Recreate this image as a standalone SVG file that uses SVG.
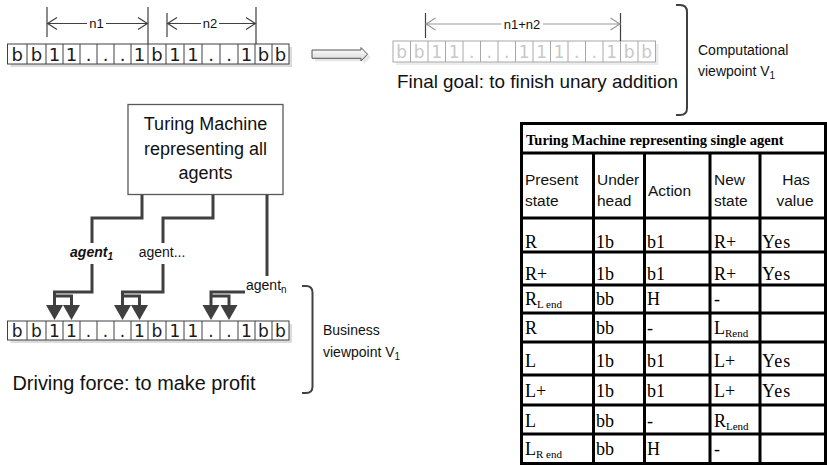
<svg xmlns="http://www.w3.org/2000/svg" width="827" height="466" viewBox="0 0 827 466">
<defs>
<style>
.cell{fill:#fff;stroke:#404040;stroke-width:1}
.sep{stroke:#404040;stroke-width:1;fill:none}
.shadow{fill:#dcdcdc}
.tt{font-family:"DejaVu Sans",sans-serif;font-size:18px;fill:#1a1a1a;text-anchor:middle}
.tb{font-family:"DejaVu Sans",sans-serif;font-size:17px;fill:#1a1a1a;text-anchor:middle}
.fcell{fill:#fff;stroke:#a8a8a8;stroke-width:1}
.fsep{stroke:#a8a8a8;stroke-width:1;fill:none}
.ft{font-family:"DejaVu Sans",sans-serif;font-size:17px;fill:#c8c8c8;text-anchor:middle}
.sans{font-family:"Liberation Sans",Arial,sans-serif;fill:#111}
.conn{fill:none;stroke:#404040;stroke-width:3;stroke-linejoin:miter}
.dim{stroke:#404040;stroke-width:1.2;fill:none}
.fdim{stroke:#9a9a9a;stroke-width:1.2;fill:none}
.brk{stroke:#404040;stroke-width:2;fill:none}
.serif{font-family:"Liberation Serif","Times New Roman",serif;font-size:18px;fill:#000}
.title{font-family:"Liberation Serif","Times New Roman",serif;font-size:14.5px;font-weight:bold;fill:#000}
.hdr{font-family:"Liberation Sans",Arial,sans-serif;font-size:15.5px;fill:#111}
.grid{stroke:#000;stroke-width:3;fill:none}
</style>
<marker id="ah" markerUnits="userSpaceOnUse" markerWidth="16" markerHeight="18" viewBox="0 -9 16 18" refX="0" refY="0" orient="auto">
<path d="M0,-8.5 L15,0 L0,8.5 z" fill="#404040"/>
</marker>
<linearGradient id="ag" x1="0" y1="0" x2="0" y2="1">
<stop offset="0" stop-color="#ffffff"/>
<stop offset="1" stop-color="#d8d8d8"/>
</linearGradient>
</defs>
<rect width="827" height="466" fill="#fff"/>

<!-- Top-left tape -->
<g id="tape-top">
<rect class="shadow" x="10.5" y="47" width="281.5" height="20"/>
<rect class="cell" x="7.5" y="44" width="281.5" height="20"/>
<path class="sep" d="M27,44v20M46,44v20M63,44v20M80,44v20M97,44v20M114,44v20M131,44v20M148,44v20M166,44v20M184,44v20M202,44v20M220,44v20M238,44v20M255,44v20M272,44v20"/>
<g class="tt">
<text x="17.25" y="61">b</text><text x="36.5" y="61">b</text><text x="54.5" y="61">1</text><text x="71.5" y="61">1</text>
<text x="88.5" y="61">.</text><text x="105.5" y="61">.</text><text x="122.5" y="61">.</text><text x="139.5" y="61">1</text>
<text x="157" y="61">b</text><text x="175" y="61">1</text><text x="193" y="61">1</text><text x="211" y="61">.</text>
<text x="229" y="61">.</text><text x="246.5" y="61">1</text><text x="263.5" y="61">b</text><text x="280.5" y="61">b</text>
</g>
</g>

<!-- n1 / n2 dimensions -->
<g id="dim-n1n2">
<path class="dim" d="M47,7V37M148,7V44M167,13V37M256,7V44"/>
<path class="dim" d="M47,23.5H87M106,23.5H148M57,17.5L47.6,23.5L57,29.5M138,17.5L147.4,23.5L138,29.5"/>
<path class="dim" d="M167,23.5H201M219,23.5H256M177,17.5L167.6,23.5L177,29.5M246,17.5L255.4,23.5L246,29.5"/>
<text class="sans" x="96.5" y="28" font-size="13" text-anchor="middle" fill="#404040">n1</text>
<text class="sans" x="210" y="28" font-size="13" text-anchor="middle" fill="#404040">n2</text>
</g>

<!-- transform arrow -->
<g id="transform-arrow">
<path d="M315,53H364V50.5L370.5,57.2L364,64V61.3H315z" fill="#e6e6e6"/>
<path d="M312,50H361V47.5L367.5,54.2L361,61V58.3H312z" fill="url(#ag)" stroke="#555" stroke-width="1"/>
</g>

<!-- Top-right (goal) tape -->
<g id="tape-goal">
<rect fill="#ececec" x="396" y="44" width="262.5" height="21"/>
<rect class="fcell" x="393" y="41" width="262.5" height="21"/>
<path class="fsep" d="M410.5,41v21M428,41v21M445.5,41v21M463,41v21M480.5,41v21M498,41v21M515.5,41v21M533,41v21M550.5,41v21M568,41v21M585.5,41v21M603,41v21M620.5,41v21M638,41v21"/>
<g class="ft">
<text x="401.75" y="57.5">b</text><text x="419.25" y="57.5">b</text><text x="436.75" y="57.5">1</text><text x="454.25" y="57.5">1</text>
<text x="471.75" y="57.5">.</text><text x="489.25" y="57.5">.</text><text x="506.75" y="57.5">.</text><text x="524.25" y="57.5">1</text>
<text x="541.75" y="57.5">1</text><text x="559.25" y="57.5">1</text><text x="576.75" y="57.5">.</text><text x="594.25" y="57.5">.</text>
<text x="611.75" y="57.5">1</text><text x="629.25" y="57.5">b</text><text x="646.75" y="57.5">b</text>
</g>
<path class="dim" d="M425.5,13V38M620.5,13V41"/>
<path class="fdim" d="M425.5,24H501.5M543,24H620.5M435.5,18L426.1,24L435.5,30M610.5,18L619.9,24L610.5,30"/>
<text class="sans" x="522" y="28.5" font-size="13" text-anchor="middle" fill="#bdbdbd">n1+n2</text>
<text class="sans" x="397" y="88" font-size="19" textLength="281" lengthAdjust="spacingAndGlyphs">Final goal: to finish unary addition</text>
</g>

<!-- Computational viewpoint -->
<g id="computational-viewpoint">
<path class="brk" d="M676,5H680Q687,5 687,12V108Q687,115 680,115H676"/>
<text class="sans" x="698" y="55" font-size="14">Computational</text>
<text class="sans" x="698" y="76" font-size="14">viewpoint V<tspan font-size="10" dy="3">1</tspan></text>
</g>

<!-- Turing machine (all agents) -->
<g id="tm-all">
<rect x="128" y="104.5" width="155" height="90" fill="#fff" stroke="#595959" stroke-width="1.3"/>
<g class="sans" font-size="18" text-anchor="middle">
<text x="205.5" y="130">Turing Machine</text>
<text x="205.5" y="155">representing all</text>
<text x="205.5" y="179">agents</text>
</g>
</g>

<!-- Connectors -->
<g id="connectors">
<path class="conn" d="M142,195V218H92V243"/>
<path class="conn" d="M92,264V292H54.5V305" marker-end="url(#ah)"/>
<path class="conn" d="M54.5,296H71.5V305" marker-end="url(#ah)"/>
<path class="conn" d="M213,195V218H163V243"/>
<path class="conn" d="M163,264V292H122.5V305" marker-end="url(#ah)"/>
<path class="conn" d="M122.5,296H139.5V305" marker-end="url(#ah)"/>
<path class="conn" d="M267,195V276"/>
<path class="conn" d="M245,292H211V305" marker-end="url(#ah)"/>
<path class="conn" d="M211,296H229V305" marker-end="url(#ah)"/>
</g>

<g id="agent-labels" class="sans" font-size="14">
<text x="91.5" y="257" text-anchor="middle" font-weight="bold" font-style="italic">agent<tspan font-size="10" dy="3">1</tspan></text>
<text x="162" y="257" text-anchor="middle">agent...</text>
<text x="246" y="290">agent<tspan font-size="10" dy="3">n</tspan></text>
</g>

<!-- Bottom tape -->
<g id="tape-bottom">
<rect class="shadow" x="10.5" y="324" width="281.5" height="19"/>
<rect class="cell" x="7.5" y="321" width="281.5" height="19"/>
<path class="sep" d="M27,321v19M46,321v19M63,321v19M80,321v19M97,321v19M114,321v19M131,321v19M148,321v19M166,321v19M184,321v19M202,321v19M220,321v19M238,321v19M255,321v19M272,321v19"/>
<g class="tb">
<text x="17.25" y="337">b</text><text x="36.5" y="337">b</text><text x="54.5" y="337">1</text><text x="71.5" y="337">1</text>
<text x="88.5" y="337">.</text><text x="105.5" y="337">.</text><text x="122.5" y="337">.</text><text x="139.5" y="337">1</text>
<text x="157" y="337">b</text><text x="175" y="337">1</text><text x="193" y="337">1</text><text x="211" y="337">.</text>
<text x="229" y="337">.</text><text x="246.5" y="337">1</text><text x="263.5" y="337">b</text><text x="280.5" y="337">b</text>
</g>
<text class="sans" x="12.5" y="390" font-size="20" textLength="243" lengthAdjust="spacingAndGlyphs">Driving force: to make profit</text>
</g>

<!-- Business viewpoint -->
<g id="business-viewpoint">
<path class="brk" d="M302,286H306Q312.5,286 312.5,292.5V386.5Q312.5,393 306,393H302"/>
<text class="sans" x="323" y="334.5" font-size="14">Business</text>
<text class="sans" x="323" y="357" font-size="14">viewpoint V<tspan font-size="10" dy="3">1</tspan></text>
</g>

<!-- Table -->
<g id="tm-single-table">
<rect class="grid" x="521.5" y="123.5" width="304" height="340" fill="#fff"/>
<path class="grid" d="M521.5,153H825.5M521.5,218H825.5M521.5,252H825.5M521.5,285H825.5M521.5,313H825.5M521.5,342H825.5M521.5,375H825.5M521.5,405H825.5M521.5,434H825.5"/>
<path class="grid" d="M593.5,153V463.5M644.5,153V463.5M710,153V463.5M760,153V463.5"/>
<text class="title" x="526" y="145">Turing Machine representing single agent</text>
<g class="hdr">
<text x="525" y="185">Present</text><text x="525" y="206">state</text>
<text x="597" y="185">Under</text><text x="597" y="206">head</text>
<text x="648" y="196">Action</text>
<text x="714" y="185">New</text><text x="714" y="206">state</text>
<text x="796" y="185" text-anchor="middle">Has</text><text x="795" y="206" text-anchor="middle">value</text>
</g>
<g class="serif">
<text x="525" y="248">R</text><text x="596" y="248">1b</text><text x="647" y="248">b1</text><text x="714" y="248">R+</text><text x="762" y="248" letter-spacing="1">Yes</text>
<text x="525" y="280">R+</text><text x="596" y="280">1b</text><text x="647" y="280">b1</text><text x="714" y="280">R+</text><text x="762" y="280" letter-spacing="1">Yes</text>
<text x="525" y="305">R<tspan font-size="11" dy="3">L end</tspan></text><text x="596" y="305">bb</text><text x="647" y="305">H</text><text x="714" y="305">-</text>
<text x="525" y="334">R</text><text x="596" y="334">bb</text><text x="647" y="334">-</text><text x="714" y="334">L<tspan font-size="11" dy="3">Rend</tspan></text>
<text x="525" y="367">L</text><text x="596" y="367">1b</text><text x="647" y="367">b1</text><text x="714" y="367">L+</text><text x="762" y="367" letter-spacing="1">Yes</text>
<text x="525" y="397">L+</text><text x="596" y="397">1b</text><text x="647" y="397">b1</text><text x="714" y="397">L+</text><text x="762" y="397" letter-spacing="1">Yes</text>
<text x="525" y="427">L</text><text x="596" y="427">bb</text><text x="647" y="427">-</text><text x="714" y="427">R<tspan font-size="11" dy="3">Lend</tspan></text>
<text x="525" y="455">L<tspan font-size="11" dy="3">R end</tspan></text><text x="596" y="455">bb</text><text x="647" y="455">H</text><text x="714" y="455">-</text>
</g>
</g>
</svg>
